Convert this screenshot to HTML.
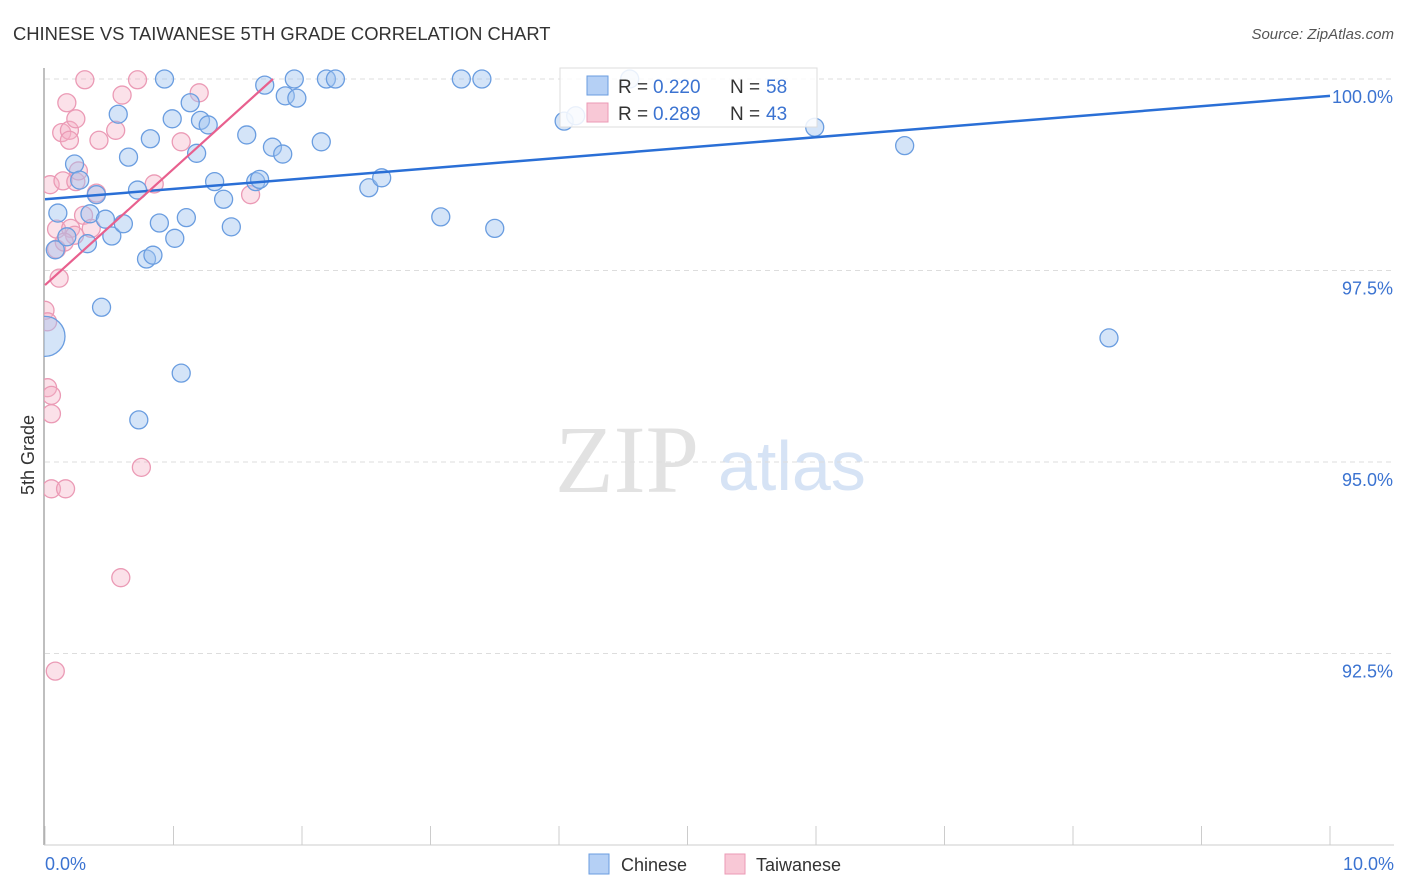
<!DOCTYPE html>
<html><head><meta charset="utf-8"><style>
body{margin:0;background:#fff;font-family:"Liberation Sans",sans-serif;}
#wrap{position:relative;width:1406px;height:892px;overflow:hidden;}
</style></head><body>
<div id="wrap">
<svg id="svg" width="1406" height="892" xmlns="http://www.w3.org/2000/svg">
<defs><clipPath id="plotclip"><rect x="44" y="55" width="1360" height="795"/></clipPath></defs>
<text x="13" y="40" font-size="18.4" fill="#333">CHINESE VS TAIWANESE 5TH GRADE CORRELATION CHART</text>
<text x="1394" y="39" font-size="15" fill="#555" text-anchor="end" font-style="italic">Source: ZipAtlas.com</text>
<text x="555" y="492" font-size="96" fill="#e2e2e2" font-family="Liberation Serif,serif">ZIP</text>
<text x="718" y="490" font-size="70" fill="#d6e3f5">atlas</text>
<g id="grid"></g>
<line x1="44" y1="68" x2="44" y2="845" stroke="#aaa" stroke-width="1.5"/>
<line x1="44" y1="845" x2="1394" y2="845" stroke="#ccc"/>
<text transform="translate(34,455) rotate(-90)" font-size="18" fill="#333" text-anchor="middle">5th Grade</text>
<text x="45" y="870" font-size="18" fill="#3b73d1">0.0%</text>
<text x="1394" y="870" font-size="18" fill="#3b73d1" text-anchor="end">10.0%</text>
<g id="marks" clip-path="url(#plotclip)"></g>
<g id="lines"></g>
<rect x="560" y="68" width="257" height="59" fill="#fff" fill-opacity="0.85" stroke="#ddd"/>
<rect x="587" y="76" width="21" height="19" fill="#b5d0f5" stroke="#6a9de0"/>
<rect x="587" y="103" width="21" height="19" fill="#f8c8d6" stroke="#eb9ab5"/>
<text x="618" y="93" font-size="19" fill="#333">R =</text>
<text x="653" y="93" font-size="19" fill="#3b73d1">0.220</text>
<text x="730" y="93" font-size="19" fill="#333">N =</text>
<text x="766" y="93" font-size="19" fill="#3b73d1">58</text>
<text x="618" y="120" font-size="19" fill="#333">R =</text>
<text x="653" y="120" font-size="19" fill="#3b73d1">0.289</text>
<text x="730" y="120" font-size="19" fill="#333">N =</text>
<text x="766" y="120" font-size="19" fill="#3b73d1">43</text>
<rect x="589" y="854" width="20" height="20" fill="#b5d0f5" stroke="#6a9de0"/>
<text x="621" y="871" font-size="18" fill="#333">Chinese</text>
<rect x="725" y="854" width="20" height="20" fill="#f8c8d6" stroke="#eb9ab5"/>
<text x="756" y="871" font-size="18" fill="#333">Taiwanese</text>
</svg>
</div>
<script>
const yTicks=[100,97.5,95,92.5];
const yTickLabels=["100.0%","97.5%","95.0%","92.5%"];
const xTickVals=[0,1,2,3,4,5,6,7,8,9,10];
const chineseX=[0.08,0.10,0.17,0.23,0.27,0.33,0.35,0.40,0.44,0.47,0.52,0.57,0.61,0.65,0.72,0.73,0.79,0.84,0.82,0.89,0.93,0.99,1.01,1.06,1.10,1.13,1.18,1.21,1.27,1.32,1.39,1.45,1.57,1.64,1.67,1.71,1.77,1.85,1.87,1.94,1.96,2.15,2.19,2.26,2.52,2.62,3.08,3.24,3.40,3.50,4.04,4.13,4.55,5.99,6.69,8.28,0.0];
const chineseY=[97.77,98.25,97.94,98.89,98.68,97.85,98.24,98.49,97.02,98.17,97.95,99.54,98.11,98.98,98.55,95.55,97.65,97.70,99.22,98.12,100,99.48,97.92,96.16,98.19,99.69,99.03,99.46,99.40,98.66,98.43,98.07,99.27,98.66,98.69,99.92,99.11,99.02,99.78,100,99.75,99.18,100,100,98.58,98.71,98.20,100,100,98.05,99.45,99.52,100,99.37,99.13,96.62,96.64];
const chineseR=[9,9,9,9,9,9,9,9,9,9,9,9,9,9,9,9,9,9,9,9,9,9,9,9,9,9,9,9,9,9,9,9,9,9,9,9,9,9,9,9,9,9,9,9,9,9,9,9,9,9,9,9,9,9,9,9,20];
const taiwanX=[0,0.02,0.04,0.05,0.02,0.05,0.05,0.08,0.09,0.09,0.11,0.13,0.14,0.16,0.17,0.19,0.19,0.20,0.23,0.24,0.24,0.26,0.30,0.31,0.36,0.40,0.42,0.55,0.59,0.60,0.72,0.75,0.85,1.06,1.20,1.60,0.15];
const taiwanY=[96.98,96.83,98.62,95.63,95.97,95.87,94.65,92.27,97.78,98.04,97.40,99.30,98.67,94.65,99.69,99.33,99.20,98.05,97.96,99.48,98.66,98.80,98.22,99.99,98.05,98.51,99.20,99.33,93.49,99.79,99.99,94.93,98.63,99.18,99.82,98.49,97.87];
const chineseTrend=[98.43,99.78];
const taiwanTrend=[97.31,100,1.774];
const X=v=>45+v*128.5, Y=v=>79+(100-v)*76.6;
const NS="http://www.w3.org/2000/svg";
function mk(t,a,p){const e=document.createElementNS(NS,t);for(const k in a)e.setAttribute(k,a[k]);p.appendChild(e);return e;}
const grid=document.getElementById('grid');
yTicks.forEach((v,i)=>{
 const l=mk('line',{x1:45,x2:1394,y1:Y(v),y2:Y(v),stroke:'#ddd','stroke-dasharray':'5,4'},grid);
 
 
 const t=mk('text',{x:1393,y:Y(v)+24,'font-size':18,fill:'#3b73d1','text-anchor':'end'},grid);
 t.textContent=yTickLabels[i];
 
 
});
xTickVals.forEach(v=>{
 const l=mk('line',{x1:X(v),x2:X(v),y1:826,y2:845,stroke:'#ccc'},grid);
 
 
});
const marks=document.getElementById('marks');
taiwanX.forEach((x,i)=>{
 const c=mk('circle',{cx:X(x),cy:Y(taiwanY[i]),r:9,fill:'rgba(245,175,198,0.38)',stroke:'#eb9ab5','stroke-width':1.3},marks);
 
 
});
chineseX.forEach((x,i)=>{
 const c=mk('circle',{cx:X(x),cy:Y(chineseY[i]),r:chineseR[i],fill:'rgba(160,196,240,0.45)',stroke:'#6a9de0','stroke-width':1.3},marks);
 
 
});
const lines=document.getElementById('lines');
const bl=mk('line',{x1:X(0),y1:Y(chineseTrend[0]),x2:X(10),y2:Y(chineseTrend[1]),stroke:'#2a6fd6','stroke-width':2.5},lines);


const pl=mk('line',{x1:X(0),y1:Y(taiwanTrend[0]),x2:X(taiwanTrend[2]),y2:Y(taiwanTrend[1]),stroke:'#e8608e','stroke-width':2.2},lines);


</script>
</body></html>
